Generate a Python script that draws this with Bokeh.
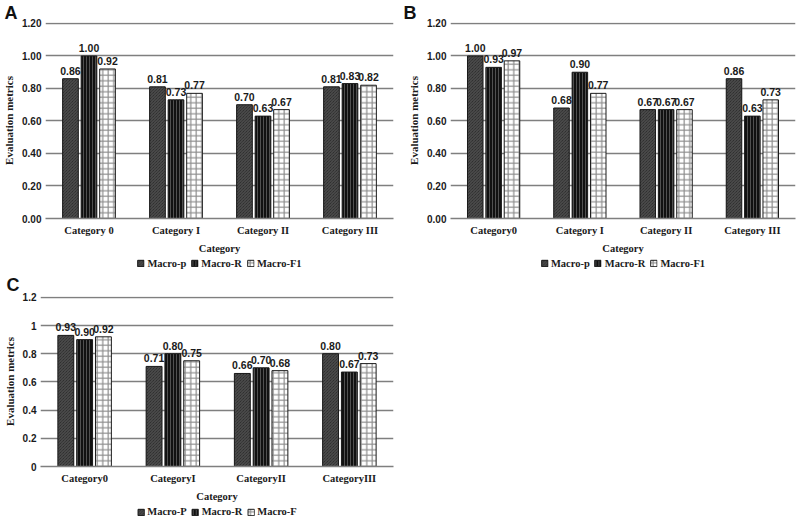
from bokeh.plotting import figure
from bokeh.models import (FactorRange, Range1d, FixedTicker, NumeralTickFormatter,
                          ColumnDataSource, Legend, LegendItem)
from bokeh.transform import dodge
from bokeh.layouts import column, row
from bokeh.embed import file_html
from bokeh.resources import INLINE
from bokeh.core.properties import value

# ---- data ----
cats_a = ["Category 0", "Category I", "Category II", "Category III"]
a_p = [0.86, 0.81, 0.70, 0.81]
a_r = [1.00, 0.73, 0.63, 0.83]
a_f = [0.92, 0.77, 0.67, 0.82]
names_a = ["Macro-p", "Macro-R", "Macro-F1"]

cats_b = ["Category0", "Category I", "Category II", "Category III"]
b_p = [1.00, 0.68, 0.67, 0.86]
b_r = [0.93, 0.90, 0.67, 0.63]
b_f = [0.97, 0.77, 0.67, 0.73]
names_b = ["Macro-p", "Macro-R", "Macro-F1"]

cats_c = ["Category0", "CategoryI", "CategoryII", "CategoryIII"]
c_p = [0.93, 0.71, 0.66, 0.80]
c_r = [0.90, 0.80, 0.70, 0.67]
c_f = [0.92, 0.75, 0.68, 0.73]
names_c = ["Macro-P", "Macro-R", "Macro-F"]

y_ticks = [0, 0.2, 0.4, 0.6, 0.8, 1.0, 1.2]

SANS = "Liberation Sans"
SERIF = "Liberation Serif"
INK = "#1a1a1a"
GRID = "#7f7f7f"

STYLES = [
    dict(fill_color="#222222", hatch_pattern="left_diagonal_line", hatch_color="#555555",
         hatch_scale=3, hatch_weight=1),
    dict(fill_color="#111111", hatch_pattern="vertical_line", hatch_color="#505050",
         hatch_scale=3, hatch_weight=1),
    dict(fill_color="white", hatch_pattern="cross", hatch_color="#8c8c8c",
         hatch_scale=5.5, hatch_weight=1.2),
]
OFFS = [-0.213, 0.0, 0.213]


def main_fig(letter, cats, series, tick_fmt, W, H, ml, mr, title_standoff):
    p = figure(x_range=FactorRange(factors=cats), y_range=Range1d(0, 1.206),
               width=W, height=H, output_backend="svg", toolbar_location=None,
               min_border_left=ml, min_border_right=mr, min_border_top=0,
               min_border_bottom=0, title=letter)
    p.outline_line_color = None
    p.background_fill_color = "white"
    p.border_fill_color = "white"

    p.title.text_font = SANS
    p.title.text_font_style = "bold"
    p.title.text_font_size = "18px"
    p.title.text_color = "#111111"
    p.title.align = "left"
    p.title.offset = -ml + 3
    p.title.standoff = title_standoff

    data = dict(cat=cats)
    for i, s in enumerate(series):
        data[f"v{i}"] = s
        data[f"l{i}"] = [f"{v:.2f}" for v in s]
    src = ColumnDataSource(data)

    for i, (off, st) in enumerate(zip(OFFS, STYLES)):
        p.vbar(x=dodge("cat", off, range=p.x_range), top=f"v{i}", width=0.18,
               source=src, line_color=INK, line_width=1, **st)
        p.text(x=dodge("cat", off, range=p.x_range), y=f"v{i}", text=f"l{i}",
               source=src, text_align="center", text_baseline="bottom", y_offset=-4,
               text_font=value(SANS), text_font_style="bold", text_font_size="10.5px",
               text_color=INK)

    p.yaxis.ticker = FixedTicker(ticks=y_ticks)
    p.yaxis.formatter = NumeralTickFormatter(format=tick_fmt)
    p.yaxis.axis_line_color = None
    p.yaxis.major_tick_line_color = None
    p.yaxis.major_tick_out = 0
    p.yaxis.minor_tick_line_color = None
    p.yaxis.major_label_text_font = SANS
    p.yaxis.major_label_text_font_style = "bold"
    p.yaxis.major_label_text_font_size = "10px"
    p.yaxis.major_label_text_color = INK
    p.yaxis.major_label_standoff = 4
    p.yaxis.axis_label = "Evaluation metrics"
    p.yaxis.axis_label_text_font = SERIF
    p.yaxis.axis_label_text_font_style = "bold"
    p.yaxis.axis_label_text_font_size = "11px"
    p.yaxis.axis_label_text_color = INK
    p.yaxis.axis_label_standoff = 4

    p.xaxis.axis_line_color = GRID
    p.xaxis.axis_line_width = 1.3
    p.xaxis.major_tick_line_color = None
    p.xaxis.major_tick_out = 0
    p.xaxis.major_label_text_font = SERIF
    p.xaxis.major_label_text_font_style = "bold"
    p.xaxis.major_label_text_font_size = "10.5px"
    p.xaxis.major_label_text_color = INK
    p.xaxis.major_label_standoff = 6
    p.xaxis.axis_label = "Category"
    p.xaxis.axis_label_text_font = SERIF
    p.xaxis.axis_label_text_font_style = "bold"
    p.xaxis.axis_label_text_font_size = "10.5px"
    p.xaxis.axis_label_text_color = INK
    p.xaxis.axis_label_standoff = 4

    p.xgrid.grid_line_color = None
    p.ygrid.grid_line_color = GRID
    p.ygrid.grid_line_width = 1.3
    return p


def legend_fig(names, W, H):
    lf = figure(width=W, height=H, x_range=Range1d(0, 1), y_range=Range1d(0, 1),
                output_backend="svg", toolbar_location=None, min_border=0,
                x_axis_location=None, y_axis_location=None)
    lf.outline_line_color = None
    lf.xgrid.visible = False
    lf.ygrid.visible = False
    items = []
    for st, nm in zip(STYLES, names):
        # swatch-only renderer: no drawable bar (NaN height), used for the legend key
        r = lf.vbar(x=[0.5], top=[float("nan")], width=0.1, line_color=INK,
                    line_width=1, **st)
        items.append(LegendItem(label=nm, renderers=[r]))
    leg = Legend(items=items, orientation="horizontal", location="center",
                 glyph_width=8, glyph_height=8, label_height=12,
                 label_text_font=SERIF, label_text_font_style="bold",
                 label_text_font_size="10.5px", label_text_color=INK,
                 spacing=4, padding=0, margin=0, label_standoff=3,
                 border_line_color=None, background_fill_alpha=0)
    lf.add_layout(leg)
    return lf


pa = main_fig("A", cats_a, [a_p, a_r, a_f], "0.00", 400, 256, 44, 7, 0)
la = legend_fig(names_a, 400, 14)
pb = main_fig("B", cats_b, [b_p, b_r, b_f], "0.00", 400, 256, 50, 5, 0)
lb = legend_fig(names_b, 400, 14)
pc = main_fig("C", cats_c, [c_p, c_r, c_f], "0.[0]", 400, 234, 37, 7, 4)
lc = legend_fig(names_c, 400, 15)

layout = column(row(column(pa, la), column(pb, lb)), column(pc, lc))

open("out.html", "w").write(file_html(layout, INLINE))
